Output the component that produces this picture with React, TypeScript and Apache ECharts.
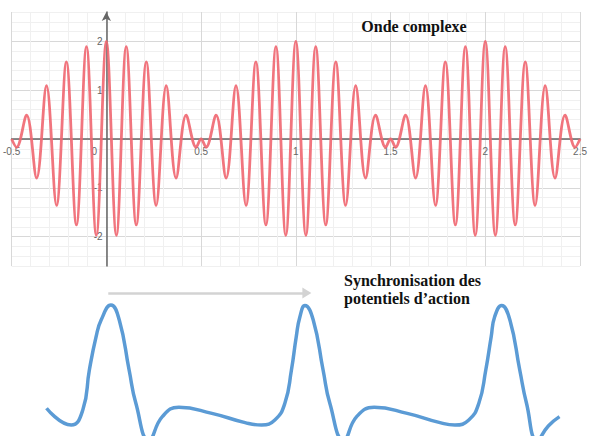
import React, { useEffect, useRef } from "react";
import * as echarts from "echarts";

// Complex wave (beat pattern): extrema and node points
const waveX = [
  -0.5, -0.474, -0.421, -0.368, -0.316, -0.263, -0.211, -0.158, -0.105, -0.053,
  0, 0.053, 0.105, 0.158, 0.211, 0.263, 0.316, 0.368, 0.421, 0.474, 0.5,
  0.526, 0.579, 0.632, 0.684, 0.737, 0.789, 0.842, 0.895, 0.947,
  1, 1.053, 1.105, 1.158, 1.211, 1.263, 1.316, 1.368, 1.421, 1.474, 1.5,
  1.526, 1.579, 1.632, 1.684, 1.737, 1.789, 1.842, 1.895, 1.947,
  2, 2.053, 2.105, 2.158, 2.211, 2.263, 2.316, 2.368, 2.421, 2.474, 2.5,
];
const waveY = [
  0, -0.17, 0.49, -0.8, 1.09, -1.36, 1.58, -1.76, 1.89, -1.97,
  2, -1.97, 1.89, -1.76, 1.58, -1.36, 1.09, -0.8, 0.49, -0.17, 0,
  -0.17, 0.49, -0.8, 1.09, -1.36, 1.58, -1.76, 1.89, -1.97,
  2, -1.97, 1.89, -1.76, 1.58, -1.36, 1.09, -0.8, 0.49, -0.17, 0,
  -0.17, 0.49, -0.8, 1.09, -1.36, 1.58, -1.76, 1.89, -1.97,
  2, -1.97, 1.89, -1.76, 1.58, -1.36, 1.09, -0.8, 0.49, -0.17, 0,
];

// Synchronised action potentials (blue trace)
const spikeX = [
  -0.316, -0.188, -0.128, -0.094, -0.059, -0.033, 0.018, 0.061, 0.112, 0.147,
  0.215, 0.284, 0.37, 0.541, 0.713, 0.798, 0.867, 0.919, 0.953, 0.978,
  0.997, 1.023, 1.066, 1.117, 1.152, 1.224, 1.291, 1.382, 1.553, 1.723,
  1.8, 1.872, 1.924, 1.96, 1.988, 2.006, 2.042, 2.085, 2.136, 2.171,
  2.227, 2.284, 2.342,
];
const spikeY = [
  0.185, 0.073, 0.173, 0.44, 0.662, 0.773, 0.873, 0.773, 0.44, 0.218,
  -0.027, 0.129, 0.191, 0.151, 0.089, 0.073, 0.107, 0.218, 0.44, 0.662,
  0.795, 0.87, 0.773, 0.44, 0.218, -0.027, 0.129, 0.191, 0.151, 0.089,
  0.073, 0.107, 0.218, 0.44, 0.662, 0.795, 0.87, 0.773, 0.44, 0.218,
  -0.027, 0.067, 0.129,
];

const xTickLabels = [-0.5, 0, 0.5, 1, 1.5, 2, 2.5];
const yTickLabels = [-2, -1, 1, 2];
const yMajor = [-2, -1, 0, 1, 2];
const arrowFrom = 0.004;
const arrowTo = 1.033;
const arrowLevel = 0.953;

const title = "Onde complexe";
const captionLines = ["Synchronisation des", "potentiels d’action"];

export default function App() {
  const ref = useRef<HTMLDivElement>(null);
  useEffect(() => {
    if (!ref.current) return;
    const chart = echarts.init(ref.current, undefined, { renderer: "svg" });
    const minorColor = "#f0f0f0";
    const majorColor = "#d8d8d8";
    const axisColor = "#666";
    const labelStyle = { color: "#666", fontSize: 10, fontFamily: "Liberation Sans" };
    chart.setOption({
      animation: false,
      backgroundColor: "#ffffff",
      grid: [
        { left: 11, top: 12, width: 583, height: 254 },
        { left: 11, top: 286, width: 583, height: 150 },
      ],
      xAxis: [
        {
          gridIndex: 0, type: "value", min: -0.5, max: 2.5, interval: 0.1, position: "bottom",
          axisLine: { show: false }, axisTick: { show: false }, axisLabel: { show: false },
          splitLine: { show: true, lineStyle: { color: minorColor, width: 1 } },
        },
        {
          gridIndex: 0, type: "value", min: -0.5, max: 2.5, interval: 0.5, position: "bottom",
          axisLine: { show: true, onZero: true, lineStyle: { color: axisColor, width: 1.5 } },
          axisTick: { show: false },
          axisLabel: {
            show: true, ...labelStyle, margin: -120,
            customValues: xTickLabels,
            formatter: (v: number) => (v === 0 ? "{z|0}" : String(v)),
            rich: { z: { ...labelStyle, padding: [0, 24, 0, 0] } },
          },
          splitLine: { show: true, lineStyle: { color: majorColor, width: 1 } },
        },
        { gridIndex: 1, type: "value", min: -0.5, max: 2.5, show: false },
      ],
      yAxis: [
        {
          gridIndex: 0, type: "value", min: -2.6, max: 2.6, interval: 0.2, position: "left",
          axisLine: { show: false }, axisTick: { show: false }, axisLabel: { show: false },
          splitLine: { show: true, lineStyle: { color: minorColor, width: 1 } },
        },
        {
          gridIndex: 0, type: "value", min: -2.6, max: 2.6, interval: 0.2, position: "left",
          axisLine: {
            show: true, onZero: true, symbol: ["none", "arrow"], symbolSize: [7, 9],
            lineStyle: { color: axisColor, width: 1.5 },
          },
          axisTick: { show: false, customValues: yMajor },
          axisLabel: { show: true, ...labelStyle, margin: -91, customValues: yTickLabels },
          splitLine: { show: true, lineStyle: { color: majorColor, width: 1 } },
        },
        { gridIndex: 1, type: "value", min: 0, max: 1, show: false },
      ],
      series: [
        {
          type: "line",
          xAxisIndex: 1,
          yAxisIndex: 1,
          data: waveX.map((x, i) => [x, waveY[i]]),
          smooth: 0.36,
          symbol: "none",
          lineStyle: { color: "#ef6670", width: 2.8, opacity: 0.9 },
          z: 3,
        },
        {
          type: "line",
          xAxisIndex: 2,
          yAxisIndex: 2,
          data: spikeX.map((x, i) => [x, spikeY[i]]),
          smooth: true,
          symbol: "none",
          lineStyle: { color: "#5b9bd5", width: 3.5 },
          markLine: {
            silent: true,
            symbol: ["none", "triangle"],
            symbolSize: [11, 9],
            label: { show: false },
            lineStyle: { color: "#d3d3d3", width: 2.5, type: "solid" },
            data: [[{ coord: [arrowFrom, arrowLevel] }, { coord: [arrowTo, arrowLevel] }]],
          },
        },
      ],
      graphic: [
        {
          type: "text", x: 414, y: 26, z: 10,
          style: {
            text: title, font: "bold 16px 'Liberation Serif'", fill: "#111",
            align: "center", verticalAlign: "middle",
          },
        },
        {
          type: "text", x: 344, y: 280, z: 10,
          style: {
            text: captionLines[0], font: "bold 16px 'Liberation Serif'", fill: "#111",
            align: "left", verticalAlign: "middle",
          },
        },
        {
          type: "text", x: 344, y: 298, z: 10,
          style: {
            text: captionLines[1], font: "bold 16px 'Liberation Serif'", fill: "#111",
            align: "left", verticalAlign: "middle",
          },
        },
      ],
    });
    return () => chart.dispose();
  }, []);
  return (
    <div
      ref={ref}
      style={{ position: "absolute", left: 0, top: 0, width: 590, height: 436 }}
    />
  );
}
